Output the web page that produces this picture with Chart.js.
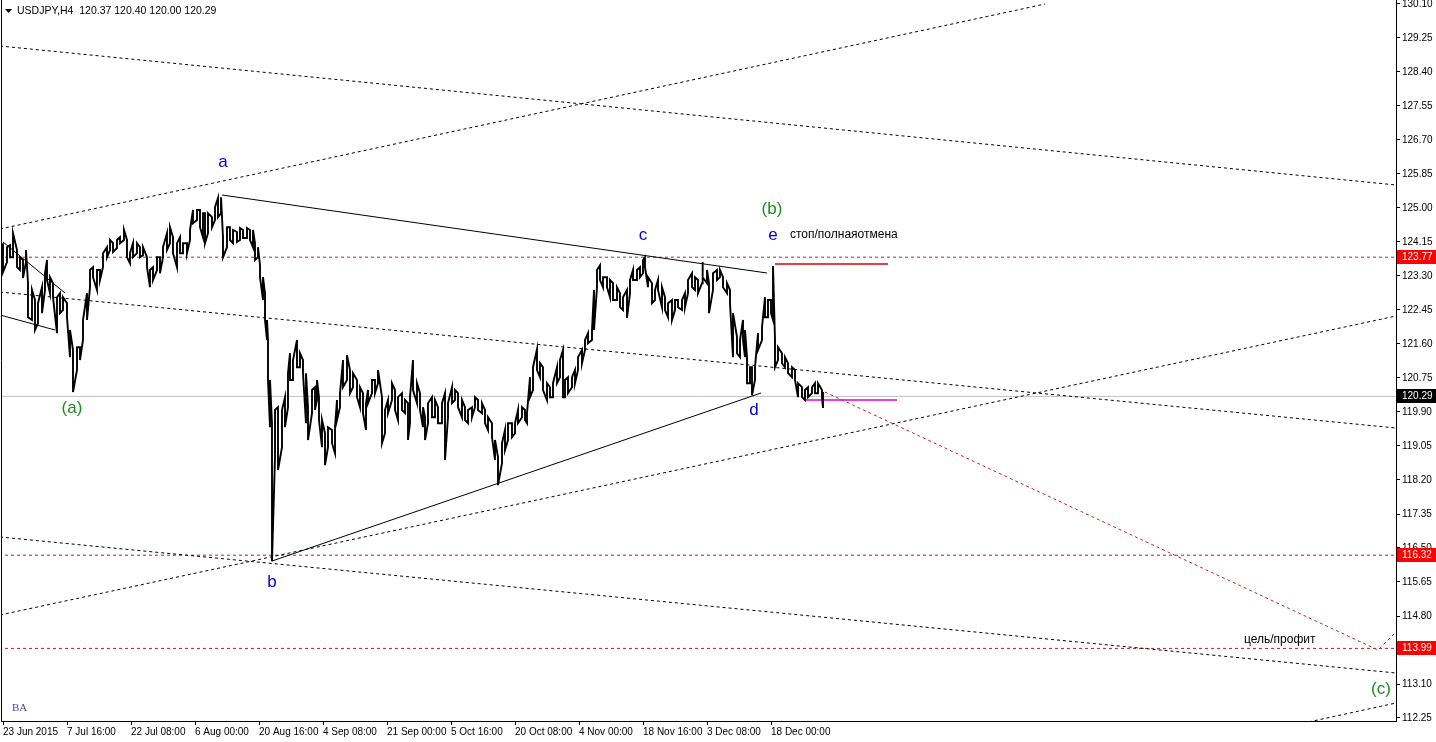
<!DOCTYPE html>
<html>
<head>
<meta charset="utf-8">
<script src="https://cdn.jsdelivr.net/npm/chart.js@4.4.1/dist/chart.umd.min.js"></script>
<style>
  html, body { margin: 0; padding: 0; background: #fff; overflow: hidden; }
</style>
</head>
<body>
<canvas id="chart" width="1436" height="742"></canvas>
<script>
// USDJPY H4, one bar per 4 hours, bar 0 = 23 Jun 2015 00:00
// price path read off the picture as high / low per sampled bar
const bars = [
  0, 4, 7, 10, 14, 17, 20, 23, 25, 29,
  32, 35, 39, 42, 44, 47, 50, 54, 57, 60,
  64, 67, 70, 74, 77, 80, 84, 87, 90, 94,
  97, 100, 104, 107, 110, 114, 117, 121, 124, 127,
  130, 134, 137, 140, 144, 147, 150, 154, 157, 160,
  164, 167, 170, 174, 177, 180, 184, 187, 190, 194,
  197, 200, 202, 205, 209, 212, 215, 218, 220, 224,
  227, 230, 234, 237, 240, 244, 247, 250, 252, 255,
  257, 260, 262, 264, 265, 267, 269, 272, 275, 279,
  282, 285, 287, 290, 294, 297, 300, 303, 305, 309,
  312, 314, 316, 319, 322, 325, 329, 332, 334, 337,
  340, 344, 347, 350, 354, 357, 360, 363, 365, 369,
  372, 375, 379, 382, 385, 389, 392, 395, 399, 402,
  405, 407, 410, 414, 417, 420, 422, 425, 429, 432,
  435, 439, 442, 445, 449, 452, 455, 459, 462, 465,
  469, 472, 475, 479, 482, 485, 489, 492, 495, 499,
  502, 505, 509, 512, 515, 519, 522, 524, 527, 530,
  534, 537, 540, 544, 547, 550, 554, 557, 560, 562,
  565, 569, 572, 575, 579, 582, 585, 589, 591, 594,
  597, 600, 604, 607, 610, 614, 617, 620, 624, 627,
  630, 634, 637, 640, 642, 645, 649, 652, 655, 659,
  662, 665, 669, 672, 675, 679, 682, 685, 689, 692,
  695, 699, 700, 704, 706, 710, 714, 717, 720, 724,
  727, 730, 734, 737, 740, 742, 744, 747, 749, 752,
  755, 759, 762, 765, 768, 770, 772, 775, 779, 782,
  785, 789, 792, 795, 799, 802, 805, 809, 812, 815,
  819, 820
];
const highs = [
  124.12, 124.02, 124.07, 124.37, 123.95, 123.77, 123.70, 123.95, 123.12, 122.95,
  122.70, 122.62, 123.02, 123.37, 123.70, 123.27, 123.12, 122.77, 122.87, 122.77,
  122.62, 121.95, 121.45, 121.52, 121.52, 122.20, 122.87, 123.45, 123.52, 123.45,
  123.45, 123.87, 124.02, 124.20, 124.12, 124.20, 124.27, 124.45, 124.20, 123.87,
  124.12, 124.12, 124.02, 124.02, 123.77, 123.45, 123.52, 123.77, 123.77, 124.02,
  124.37, 124.52, 124.27, 124.12, 124.27, 124.12, 124.12, 124.45, 124.95, 124.95,
  124.95, 124.87, 124.87, 124.87, 124.77, 125.02, 125.25, 125.27, 124.27, 124.52,
  124.52, 124.45, 124.40, 124.50, 124.45, 124.50, 124.45, 124.45, 124.12, 124.02,
  123.57, 123.27, 122.87, 122.20, 121.70, 120.70, 119.62, 119.95, 120.02, 119.95,
  120.27, 120.87, 121.37, 121.20, 121.70, 121.37, 121.20, 120.87, 120.02, 120.45,
  120.52, 120.70, 120.27, 119.70, 119.37, 119.52, 119.45, 119.52, 120.20, 120.37,
  121.20, 121.32, 120.95, 120.87, 120.70, 120.52, 120.37, 120.12, 120.45, 120.70,
  120.70, 120.95, 120.27, 119.95, 120.20, 120.62, 120.45, 120.27, 120.37, 120.20,
  120.12, 120.27, 121.20, 120.62, 120.37, 120.02, 119.77, 120.12, 120.27, 120.20,
  120.02, 120.12, 120.37, 120.12, 120.52, 120.45, 120.37, 120.20, 120.02, 119.95,
  120.02, 120.27, 120.20, 120.12, 119.95, 119.77, 119.62, 119.20, 118.77, 119.12,
  119.45, 119.62, 119.62, 119.62, 119.95, 120.02, 119.95, 119.87, 120.77, 121.02,
  121.47, 121.12, 121.02, 120.62, 120.52, 120.62, 121.02, 121.20, 121.45, 120.70,
  120.77, 120.77, 120.95, 121.27, 121.45, 121.70, 121.87, 121.95, 122.95, 123.45,
  123.57, 123.27, 123.27, 123.20, 123.12, 123.02, 122.87, 122.77, 122.95, 123.20,
  123.45, 123.45, 123.52, 123.70, 123.77, 123.27, 123.12, 122.95, 123.20, 123.02,
  122.77, 122.62, 122.70, 122.70, 122.70, 122.70, 122.87, 123.20, 123.37, 123.27,
  123.20, 123.45, 123.65, 123.45, 123.12, 123.37, 123.45, 123.45, 123.27, 123.12,
  122.95, 122.37, 121.77, 121.70, 122.20, 121.95, 121.27, 121.02, 121.02, 121.02,
  121.87, 122.02, 122.77, 122.70, 122.70, 123.55, 121.70, 121.52, 121.37, 121.27,
  121.12, 121.02, 120.95, 120.62, 120.52, 120.45, 120.52, 120.52, 120.62, 120.62,
  120.45, 120.40
];
const lows = [
  123.40, 123.65, 123.77, 123.77, 123.52, 123.45, 123.25, 123.65, 122.27, 122.20,
  121.95, 122.12, 122.37, 122.95, 123.20, 122.87, 122.77, 121.87, 122.37, 122.45,
  122.27, 121.27, 120.40, 120.95, 121.20, 121.70, 122.20, 123.02, 123.27, 122.95,
  123.20, 123.52, 123.77, 123.95, 123.90, 124.00, 124.12, 124.20, 123.77, 123.62,
  123.77, 123.87, 123.77, 123.82, 123.52, 123.02, 123.20, 123.45, 123.37, 123.77,
  123.95, 124.12, 123.87, 123.52, 123.87, 123.87, 123.87, 124.20, 124.62, 124.70,
  124.52, 124.27, 124.12, 124.37, 124.52, 124.70, 124.77, 124.87, 123.77, 124.02,
  124.20, 124.12, 124.15, 124.20, 124.25, 124.25, 124.20, 124.02, 123.70, 123.77,
  123.27, 122.70, 122.20, 121.70, 120.70, 119.52, 116.17, 118.77, 118.45, 119.02,
  119.52, 120.02, 120.70, 120.70, 121.02, 121.02, 120.87, 119.62, 119.20, 119.87,
  119.95, 120.20, 119.70, 119.02, 118.57, 119.02, 119.12, 118.87, 119.70, 120.02,
  120.52, 120.70, 120.37, 120.52, 120.27, 120.02, 119.87, 119.45, 120.12, 120.37,
  120.37, 120.62, 119.12, 119.37, 119.87, 120.20, 119.95, 119.70, 119.95, 119.87,
  119.20, 119.62, 120.45, 120.12, 119.95, 119.52, 119.20, 119.62, 119.77, 119.77,
  119.62, 119.62, 118.70, 119.77, 120.12, 120.20, 120.02, 119.77, 119.70, 119.62,
  119.77, 120.02, 119.95, 119.87, 119.62, 119.45, 119.27, 118.70, 118.07, 118.62,
  118.95, 119.20, 119.27, 119.37, 119.62, 119.77, 119.70, 119.62, 120.27, 120.45,
  120.95, 120.77, 120.45, 120.20, 120.27, 120.27, 120.62, 120.77, 120.27, 120.27,
  120.37, 120.52, 120.62, 120.95, 121.12, 121.45, 121.62, 121.70, 121.95, 123.02,
  123.20, 123.02, 123.02, 122.77, 122.70, 122.70, 122.52, 122.45, 122.25, 122.87,
  123.20, 123.20, 123.27, 123.37, 123.52, 123.02, 122.62, 122.70, 122.95, 122.52,
  122.45, 122.27, 122.20, 122.45, 122.52, 122.45, 122.52, 122.87, 123.02, 122.95,
  122.87, 123.12, 123.27, 123.12, 122.37, 122.95, 123.20, 123.27, 123.02, 122.87,
  122.62, 121.27, 121.37, 121.27, 121.70, 121.27, 120.62, 120.62, 120.32, 120.70,
  121.45, 121.70, 122.27, 122.27, 122.37, 122.20, 121.02, 121.20, 121.12, 121.02,
  120.87, 120.77, 120.70, 120.27, 120.27, 120.20, 120.27, 120.37, 120.37, 120.37,
  120.27, 120.00
];

// axis labels
const xTickBars = [0, 64, 128, 192, 256, 320, 384, 448, 512, 576, 640, 704, 768];
const xTickLabels = ['23 Jun 2015', '7 Jul 16:00', '22 Jul 08:00', '6 Aug 00:00', '20 Aug 16:00',
  '4 Sep 08:00', '21 Sep 00:00', '5 Oct 16:00', '20 Oct 08:00', '4 Nov 00:00',
  '18 Nov 16:00', '3 Dec 08:00', '18 Dec 00:00'];
const yTickValues = [130.10, 129.25, 128.40, 127.55, 126.70, 125.85, 125.00, 124.15, 123.30,
  122.45, 121.60, 120.75, 119.90, 119.05, 118.20, 117.35, 116.50, 115.65, 114.80,
  113.95, 113.10, 112.25];

// analysis objects: [bar, price] end points
const channelLines = [
  [[-3, 124.475], [1042, 130.10]],
  [[-3, 129.05], [1393, 125.575]],
  [[-3, 122.90], [1393, 119.50]],
  [[-3, 114.825], [1393, 122.30]],
  [[-3, 116.775], [1393, 113.375]],
  [[1300, 112.12], [1393, 112.625]]
];
const triangleLines = [
  [[219, 125.325], [764, 123.375]],
  [[269, 116.175], [758, 120.375]],
  [[0, 124.15], [62, 122.875]],
  [[-3, 122.325], [52, 121.95]]
];
const levelPrices = [123.77, 116.32, 113.99];
const lastPrice = 120.29;
const targetPath = [[822, 120.40], [1375, 113.95], [1395, 114.45]];
const stopLine = [[772, 123.60], [885, 123.60]];
const entryLine = [[802, 120.20], [894, 120.20]];

const waveText = ['a', 'b', 'c', 'd', 'e'];
const waveBar = [220, 269, 640, 751, 770];
const wavePrice = [126.15, 115.65, 124.325, 119.95, 124.325];
const degreeText = ['(a)', '(b)', '(c)'];
const degreeBar = [69, 769, 1378];
const degreePrice = [120.0, 124.975, 112.975];
const notes = [['стоп/полнаяотмена', 787, 124.325], ['цель/профит', 1241, 114.2]];

// price path: for every sampled bar a vertical stroke from high to low
const pricePts = [];
bars.forEach((b, i) => {
  if (i % 2 === 0) {
    pricePts.push({x: b, y: highs[i]}, {x: b, y: lows[i]});
  } else {
    pricePts.push({x: b, y: lows[i]}, {x: b, y: highs[i]});
  }
});

const seg = (pts) => pts.map(p => ({x: p[0], y: p[1]}));
const datasets = [];
datasets.push({data: pricePts, borderColor: '#000', borderWidth: 1.9});
triangleLines.forEach(l => datasets.push({data: seg(l), borderColor: '#000', borderWidth: 1}));
datasets.push({data: seg(stopLine), borderColor: '#e00000', borderWidth: 1.5});
datasets.push({data: seg(entryLine), borderColor: '#e000e0', borderWidth: 1.5});
datasets.push({data: seg(targetPath), borderColor: '#c02020', borderWidth: 1, borderDash: [3, 3]});
channelLines.forEach(l => datasets.push({data: seg(l), borderColor: '#000', borderWidth: 1, borderDash: [3, 3]}));
levelPrices.forEach(p => datasets.push({data: seg([[-10, p], [1400, p]]), borderColor: '#c02020', borderWidth: 1, borderDash: [3, 3]}));
datasets.push({data: seg([[-10, lastPrice], [1400, lastPrice]]), borderColor: '#c0c0c0', borderWidth: 1});

const annot = {
  id: 'annot',
  afterDraw(chart) {
    const {ctx, chartArea: ca, scales: {x, y}} = chart;
    ctx.save();
    // frame left edge
    ctx.strokeStyle = '#000';
    ctx.lineWidth = 1;
    ctx.beginPath();
    ctx.moveTo(ca.left + 0.5, ca.top);
    ctx.lineTo(ca.left + 0.5, ca.bottom);
    ctx.stroke();

    ctx.textBaseline = 'middle';
    ctx.textAlign = 'center';
    ctx.font = '17px "Liberation Sans", Arial, sans-serif';
    ctx.fillStyle = '#0000e6';
    waveText.forEach((t, i) => ctx.fillText(t, x.getPixelForValue(waveBar[i]), y.getPixelForValue(wavePrice[i])));
    ctx.fillStyle = '#1f8a1f';
    degreeText.forEach((t, i) => ctx.fillText(t, x.getPixelForValue(degreeBar[i]), y.getPixelForValue(degreePrice[i])));

    ctx.textAlign = 'left';
    ctx.fillStyle = '#000';
    ctx.font = '12px "Liberation Sans", Arial, sans-serif';
    notes.forEach(n => ctx.fillText(n[0], x.getPixelForValue(n[1]), y.getPixelForValue(n[2])));

    // header
    ctx.font = '10.5px "Liberation Sans", Arial, sans-serif';
    ctx.beginPath();
    ctx.moveTo(ca.left + 4, ca.top + 9);
    ctx.lineTo(ca.left + 11, ca.top + 9);
    ctx.lineTo(ca.left + 7.5, ca.top + 13);
    ctx.closePath();
    ctx.fill();
    ctx.fillText('USDJPY,H4  120.37 120.40 120.00 120.29', ca.left + 16, ca.top + 11);

    ctx.fillStyle = '#4646b4';
    ctx.font = '11px "Liberation Serif", serif';
    ctx.fillText('BA', ca.left + 11, ca.bottom - 13);

    // price tags on the scale
    const tags = levelPrices.map(p => [p, '#ff0000']).concat([[lastPrice, '#000']]);
    ctx.font = '10px "Liberation Sans", Arial, sans-serif';
    tags.forEach(([p, bg]) => {
      const py = Math.round(y.getPixelForValue(p));
      ctx.fillStyle = bg;
      ctx.fillRect(ca.right + 1, py - 7, 40, 14);
      ctx.fillStyle = '#fff';
      ctx.fillText(p.toFixed(2), ca.right + 6, py);
    });
    ctx.restore();
  }
};

new Chart(document.getElementById('chart').getContext('2d'), {
  type: 'line',
  data: {datasets},
  options: {
    responsive: false,
    animation: false,
    layout: {padding: {left: 1, top: 0, right: 0, bottom: 0}},
    elements: {point: {radius: 0}, line: {tension: 0}},
    plugins: {legend: {display: false}, tooltip: {enabled: false}},
    scales: {
      x: {
        type: 'linear', min: -2, max: 1393,
        afterBuildTicks: s => { s.ticks = xTickBars.map(v => ({value: v})); },
        afterFit: s => { s.height = 21; s.paddingLeft = 0; s.paddingRight = 0; },
        ticks: {autoSkip: false, maxRotation: 0, align: 'start', padding: 1, color: '#000',
          font: {family: '"Liberation Sans", Arial, sans-serif', size: 10},
          callback: (v, i) => xTickLabels[i]},
        grid: {drawOnChartArea: false, drawTicks: true, tickLength: 4, color: '#000'},
        border: {display: true, color: '#000'}
      },
      y: {
        type: 'linear', position: 'right', min: 112.175, max: 130.2,
        afterBuildTicks: s => { s.ticks = yTickValues.map(v => ({value: v})); },
        afterFit: s => { s.width = 40; s.paddingTop = 0; s.paddingBottom = 0; },
        ticks: {padding: 2, color: '#000',
          font: {family: '"Liberation Sans", Arial, sans-serif', size: 10},
          callback: v => v.toFixed(2)},
        grid: {drawOnChartArea: false, drawTicks: true, tickLength: 4, color: '#000'},
        border: {display: true, color: '#000'}
      }
    }
  },
  plugins: [annot]
});
</script>
</body>
</html>
